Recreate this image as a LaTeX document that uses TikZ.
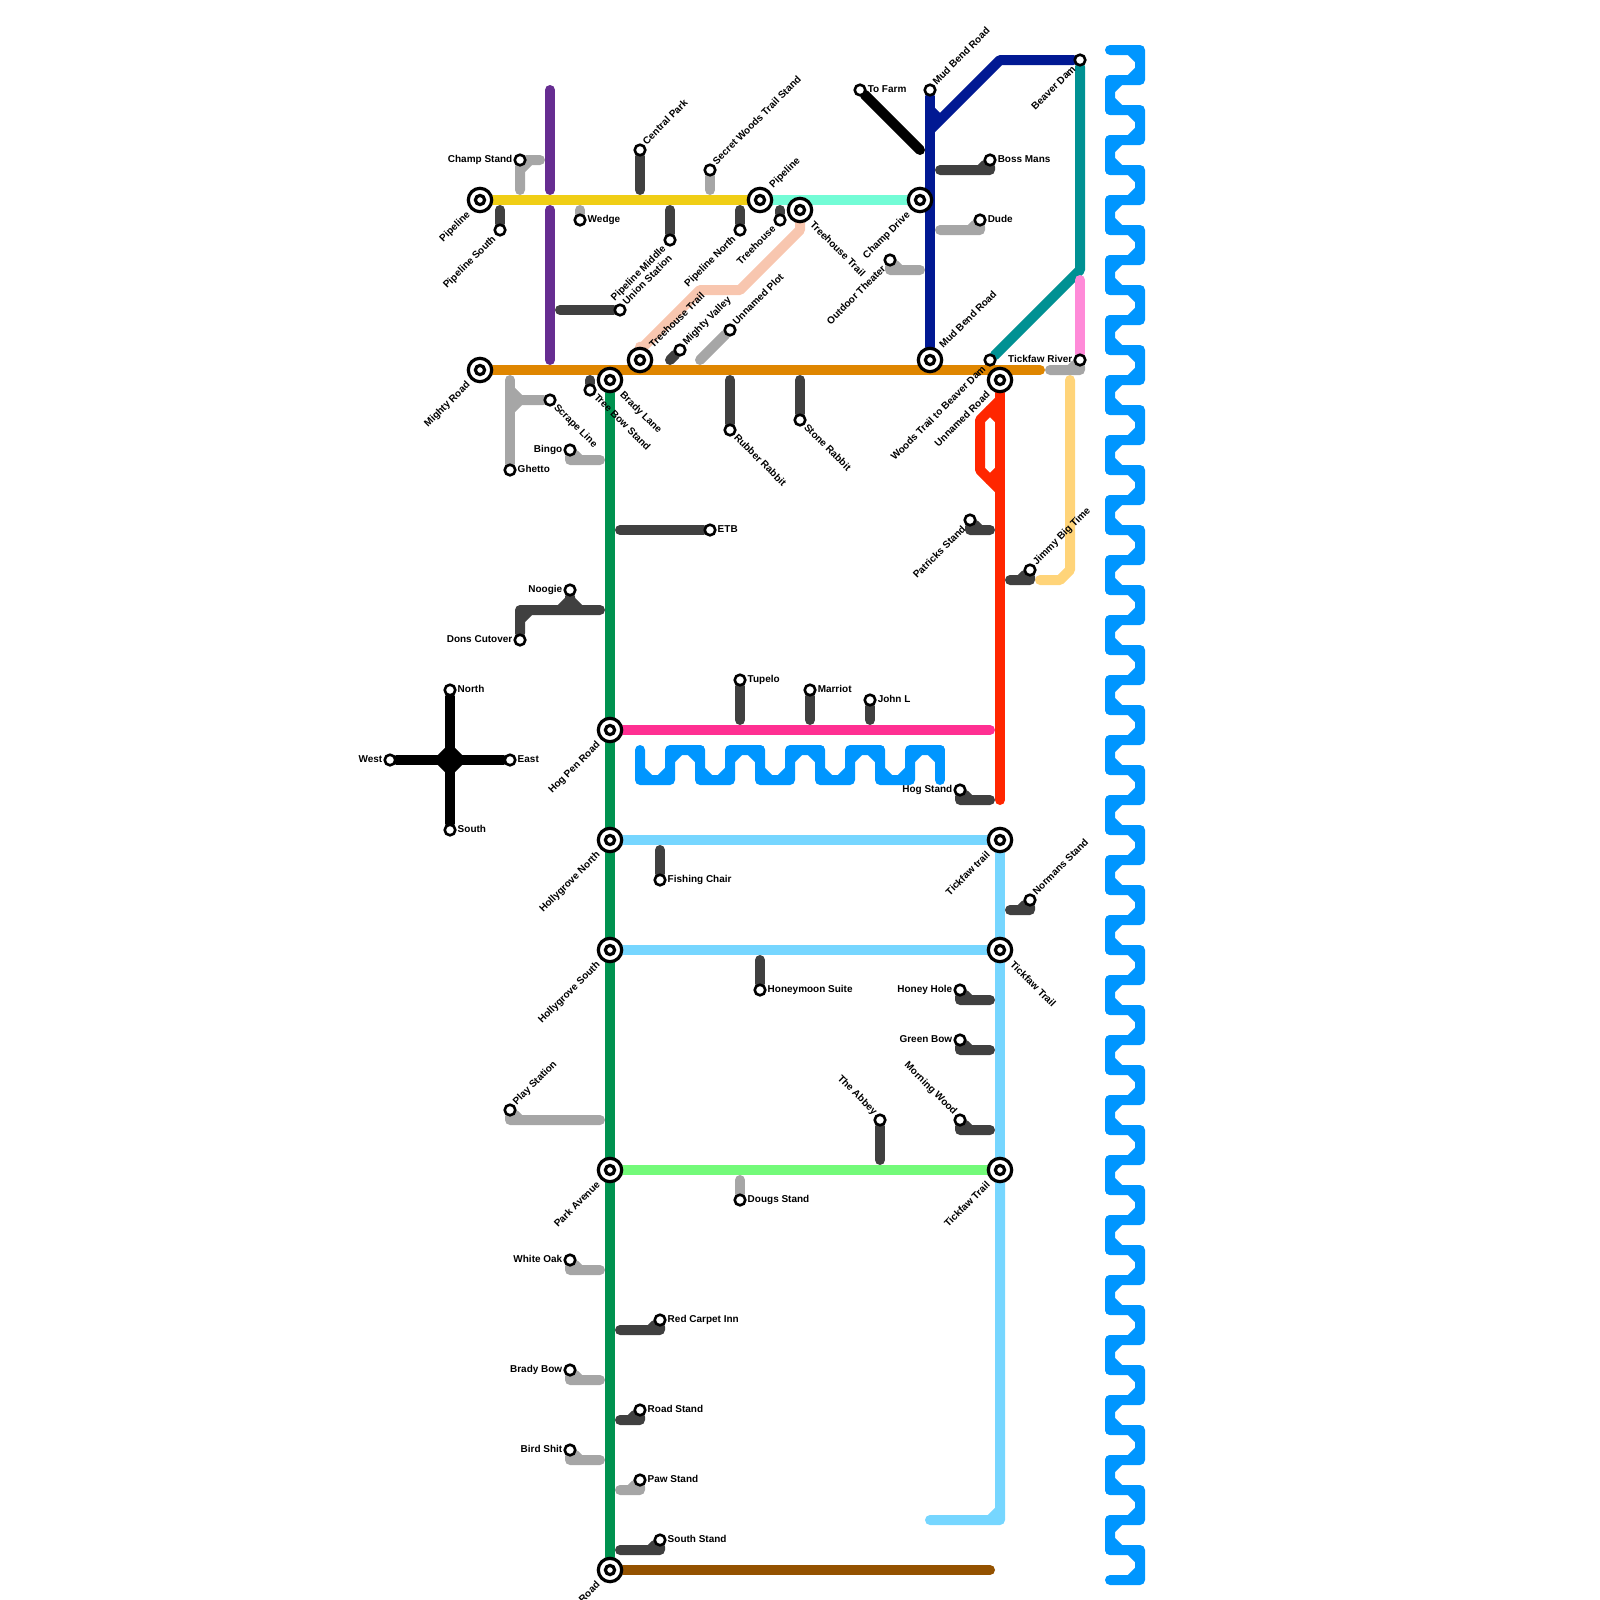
\documentclass[tikz,border=0pt]{standalone}
\usepackage{fontspec}
\setmainfont{Liberation Sans}
\usetikzlibrary{backgrounds}

\definecolor{linepurple}{HTML}{662D91}
\definecolor{lineyellow}{HTML}{F0CE15}
\definecolor{lineorange}{HTML}{DF8600}
\definecolor{linegreen}{HTML}{00924F}
\definecolor{lineaqua}{HTML}{73FCD6}
\definecolor{linepeach}{HTML}{F8C6AF}
\definecolor{linedark}{HTML}{404040}
\definecolor{linegray}{HTML}{A6A6A6}
\definecolor{linenavy}{HTML}{011993}
\definecolor{lineteal}{HTML}{009193}
\definecolor{linebubble}{HTML}{FF8AD8}
\definecolor{linered}{HTML}{FF2600}
\definecolor{linetan}{HTML}{FFD479}
\definecolor{linehot}{HTML}{FF2F92}
\definecolor{linesky}{HTML}{76D6FF}
\definecolor{lineflora}{HTML}{73FA79}
\definecolor{linemocha}{HTML}{945200}
\definecolor{riverblue}{HTML}{0096FF}

\tikzset{
  track/.style={line width=0.5cm,line cap=round,line join=round},
  stop/.style={circle,draw=black,fill=white,line width=0.13cm,minimum size=0.53cm,inner sep=0pt},
  hub/.style={circle,draw=black,fill=white,line width=0.16cm,minimum size=1.17cm,inner sep=0pt,
    path picture={\draw[black,line width=0.16cm] (path picture bounding box.center) circle (0.23cm);}},
  lbl/.style={font=\bfseries\fontsize{14.2}{17}\selectfont,inner sep=0pt,text height=0.28cm,text depth=0pt},
  lbe/.style={label={[lbl,anchor=west,xshift=-0.05cm]0:#1}},
  lbw/.style={label={[lbl,anchor=east,xshift=0.05cm]180:#1}},
  lbne/.style={label={[lbl,rotate=45,anchor=west]45:#1}},
  lbsw/.style={label={[lbl,rotate=45,anchor=east,xshift=-0.07cm]225:#1}},
  lbse/.style={label={[lbl,rotate=-45,anchor=west,yshift=0.05cm]-45:#1}},
  lbnw/.style={label={[lbl,rotate=-45,anchor=east]135:#1}},
  hbne/.style={label={[lbl,rotate=45,anchor=west,xshift=0.14cm]45:#1}},
  hbsw/.style={label={[lbl,rotate=45,anchor=east,xshift=-0.14cm]225:#1}},
  hbse/.style={label={[lbl,rotate=-45,anchor=west,xshift=0.14cm]-45:#1}},
}

\begin{document}
\begin{tikzpicture}[x=0.05cm,y=-0.05cm,label distance=0.1cm]
        \useasboundingbox (0,0) rectangle (1600,1600);

        % Hubs
        \node[hub,hbsw=Pipeline] (pipelineW) at (480,200) {};
        \node[hub,hbne=Pipeline] (pipelineE) at (760,200) {};
        \node[hub,hbse=Treehouse Trail] (treehouseE) at (800,210) {};
        \node[hub,hbsw=Champ Drive] (champdrive) at (920,200) {};
        \node[hub,hbsw=Mighty Road] (mightyroad) at (480,370) {};
        \node[hub,hbne=Treehouse Trail] (treehouseW) at (640,360) {};
        \node[hub,hbse=Brady Lane] (bradylane) at (610,380) {};
        \node[hub,hbne=Mud Bend Road] (mudbendS) at (930,360) {};
        \node[hub,hbsw=Unnamed Road] (unnamedroad) at (1000,380) {};
        \node[hub,hbsw=Hog Pen Road] (hogpen) at (610,730) {};
        \node[hub,hbsw=Hollygrove North] (hollyN) at (610,840) {};
        \node[hub,hbsw=Hollygrove South] (hollyS) at (610,950) {};
        \node[hub,hbsw=Park Avenue] (parkave) at (610,1170) {};
        \node[hub,hbsw=Road] (bottomroad) at (610,1570) {};
        \node[hub,hbsw=Tickfaw trail] (tickfawA) at (1000,840) {};
        \node[hub,hbse=Tickfaw Trail] (tickfawB) at (1000,950) {};
        \node[hub,hbsw=Tickfaw Trail] (tickfawC) at (1000,1170) {};

        % Stops, top
        \node[stop,lbw=Champ Stand] (champstand) at (520,160) {};
        \node[stop,lbsw=Pipeline South] (pipesouth) at (500,230) {};
        \node[stop,lbe=Wedge] (wedge) at (580,220) {};
        \node[stop,lbne=Central Park] (centralpark) at (640,150) {};
        \node[stop,lbne=Secret Woods Trail Stand] (secretwoods) at (710,170) {};
        \node[stop,lbsw=Pipeline Middle] (pipemiddle) at (670,240) {};
        \node[stop,lbsw=Pipeline North] (pipenorth) at (740,230) {};
        \node[stop,lbsw=Treehouse] (treehouse) at (780,220) {};
        \node[stop,lbne=Union Station] (union) at (620,310) {};
        \node[stop,lbne=Mighty Valley] (mightyvalley) at (680,350) {};
        \node[stop,lbne=Unnamed Plot] (unnamedplot) at (730,330) {};
        \node[stop,lbse=Tree Bow Stand] (treebow) at (590,390) {};
        \node[stop,lbse=Scrape Line] (scrape) at (550,400) {};
        \node[stop,lbe=Ghetto] (ghetto) at (510,470) {};
        \node[stop,lbw=Bingo] (bingo) at (570,450) {};
        \node[stop,lbw=Noogie] (noogie) at (570,590) {};
        \node[stop,lbw=Dons Cutover] (dons) at (520,640) {};
        \node[stop,lbse=Rubber Rabbit] (rubber) at (730,430) {};
        \node[stop,lbse=Stone Rabbit] (stone) at (800,420) {};
        \node[stop,lbe=ETB] (etb) at (710,530) {};
        \node[stop,lbe=To Farm] (tofarm) at (860,90) {};
        \node[stop,lbne=Mud Bend Road] (mudbendN) at (930,90) {};
        \node[stop,lbe=Boss Mans] (bossmans) at (990,160) {};
        \node[stop,lbe=Dude] (dude) at (980,220) {};
        \node[stop,lbsw=Outdoor Theater] (outdoor) at (890,260) {};
        \node[stop,lbsw=Beaver Dam] (beaver) at (1080,60) {};
        \node[stop,lbw=Tickfaw River] (tickfawriver) at (1080,360) {};
        \node[stop,lbsw=Woods Trail to Beaver Dam] (woodstrail) at (990,360) {};
        \node[stop,lbsw=Patricks Stand] (patricks) at (970,520) {};
        \node[stop,lbne=Jimmy Big Time] (jimmy) at (1030,570) {};

        % Stops, middle
        \node[stop,lbe=Tupelo] (tupelo) at (740,680) {};
        \node[stop,lbe=Marriot] (marriot) at (810,690) {};
        \node[stop,lbe=John L] (johnl) at (870,700) {};
        \node[stop,lbw=Hog Stand] (hogstand) at (960,790) {};
        \node[stop,lbe=North] (north) at (450,690) {};
        \node[stop,lbe=South] (south) at (450,830) {};
        \node[stop,lbw=West] (west) at (390,760) {};
        \node[stop,lbe=East] (east) at (510,760) {};
        \node[stop,lbe=Fishing Chair] (fishing) at (660,880) {};
        \node[stop,lbne=Normans Stand] (normans) at (1030,900) {};
        \node[stop,lbe=Honeymoon Suite] (honeymoon) at (760,990) {};
        \node[stop,lbw=Honey Hole] (honeyhole) at (960,990) {};
        \node[stop,lbw=Green Bow] (greenbow) at (960,1040) {};
        \node[stop,lbnw=Morning Wood] (morningwood) at (960,1120) {};
        \node[stop,lbnw=The Abbey] (abbey) at (880,1120) {};

        % Stops, bottom
        \node[stop,lbne=Play Station] (playstation) at (510,1110) {};
        \node[stop,lbe=Dougs Stand] (dougs) at (740,1200) {};
        \node[stop,lbw=White Oak] (whiteoak) at (570,1260) {};
        \node[stop,lbe=Red Carpet Inn] (redcarpet) at (660,1320) {};
        \node[stop,lbw=Brady Bow] (bradybow) at (570,1370) {};
        \node[stop,lbe=Road Stand] (roadstand) at (640,1410) {};
        \node[stop,lbw=Bird Shit] (birdshit) at (570,1450) {};
        \node[stop,lbe=Paw Stand] (pawstand) at (640,1480) {};
        \node[stop,lbe=South Stand] (southstand) at (660,1540) {};

        % Free ends of the long lines
        \coordinate (purpleA) at (550,90);
        \coordinate (purpleB) at (550,190);
        \coordinate (purpleC) at (550,210);
        \coordinate (purpleD) at (550,360);
        \coordinate (orangeE) at (1040,370);
        \coordinate (redE) at (1000,800);
        \coordinate (hotE) at (990,730);
        \coordinate (skyA) at (990,840);
        \coordinate (skyB) at (930,1520);
        \coordinate (floraE) at (990,1170);
        \coordinate (mochaE) at (990,1570);
        \coordinate (tanA) at (1070,380);
        \coordinate (tanB) at (1040,580);
        \coordinate (bubbleA) at (1080,280);
        \coordinate (compass) at (450,760);

        \begin{scope}[on background layer]
        % River down the right side
        \foreach \k in {0,...,25} {
            \pgfmathsetmacro\yy{50+60*\k}
            \draw[track,riverblue] (1110,\yy) -- (1140,\yy) -- (1140,\yy+30) -- (1110,\yy+30)
                (1130,\yy) -- (1140,\yy+10) (1140,\yy+20) -- (1130,\yy+30);
        }
        \foreach \k in {0,...,24} {
            \pgfmathsetmacro\yy{50+60*\k}
            \draw[track,riverblue] (1110,\yy+30) -- (1110,\yy+60)
                (1120,\yy+30) -- (1110,\yy+40) (1110,\yy+50) -- (1120,\yy+60);
        }
        % River under the hog pen line
        \foreach \k in {0,...,4} {
            \pgfmathsetmacro\xx{640+60*\k}
            \draw[track,riverblue] (\xx,750) -- (\xx,780) -- (\xx+30,780) -- (\xx+30,750) -- (\xx+60,750)
                (\xx,770) -- (\xx+10,780) (\xx+20,780) -- (\xx+30,770)
                (\xx+30,760) -- (\xx+40,750) (\xx+50,750) -- (\xx+60,760);
        }
        \draw[track,riverblue] (940,750) -- (940,780);

        % Long lines
        \draw[track,linepurple] (purpleA) -- (purpleB) (purpleC) -- (purpleD);
        \draw[track,lineyellow] (pipelineW) -- (pipelineE);
        \draw[track,lineaqua] (pipelineE) -- (champdrive);
        \draw[track,lineorange] (mightyroad) -- (orangeE);
        \draw[track,linegreen] (bradylane) -- (bottomroad);
        \draw[track,linepeach] (treehouseW) -- ++(0,-10) -- ++(60,-60) -- ++(40,0) -- ++(60,-60) -- (treehouseE);
        \draw[track,linenavy] (mudbendN) -- (mudbendS);
        \draw[track,linenavy] (930,130) -- ++(70,-70) -- (beaver) (930,110) -- ++(10,10);
        \draw[track,lineteal] (beaver) -- ++(0,210) -- (woodstrail);
        \draw[track,linebubble] (bubbleA) -- (tickfawriver);
        \draw[track,linetan] (tanA) -- ++(0,190) -- ++(-10,10) -- (tanB);
        \draw[track,linered] (unnamedroad) -- (redE);
        \draw[track,linered] (unnamedroad) ++(0,20) -- ++(-20,20) -- ++(0,50) -- ++(20,20);
        \draw[track,linered] (unnamedroad) ++(-10,30) -- ++(10,10) (unnamedroad) ++(0,90) -- ++(-10,10);
        \draw[track,linehot] (hogpen) -- (hotE);
        \draw[track,linesky] (hollyN) -- (skyA);
        \draw[track,linesky] (hollyS) -- (tickfawB);
        \draw[track,linesky] (tickfawA) -- (tickfawC);
        \draw[track,linesky] (tickfawC) -- ++(0,350) -- (skyB) (tickfawC) ++(-10,350) -- ++(10,-10);
        \draw[track,lineflora] (parkave) -- (floraE);
        \draw[track,linemocha] (bottomroad) -- (mochaE);

        % Black cross and spur
        \draw[track,black] (west) -- (east);
        \draw[track,black] (north) -- (south);
        \draw[track,black] (compass) ++(-10,0) -- ++(10,-10) -- ++(10,10) -- ++(-10,10) -- cycle;
        \draw[track,black] (tofarm) -- ++(60,60);

        % Spurs off the top lines
        \draw[track,linegray] (champstand) -- ++(0,30) (champstand) -- ++(20,0) (champstand) ++(0,10) -- ++(10,-10);
        \draw[track,linedark] (pipesouth) -- ++(0,-20);
        \draw[track,linegray] (wedge) -- ++(0,-10);
        \draw[track,linedark] (centralpark) -- ++(0,40);
        \draw[track,linegray] (secretwoods) -- ++(0,20);
        \draw[track,linedark] (pipemiddle) -- ++(0,-30);
        \draw[track,linedark] (pipenorth) -- ++(0,-20);
        \draw[track,linedark] (treehouse) -- ++(0,-10);
        \draw[track,linedark] (union) -- ++(-60,0);
        \draw[track,linedark] (mightyvalley) -- ++(-10,10);
        \draw[track,linegray] (unnamedplot) -- ++(-30,30);
        \draw[track,linedark] (treebow) -- ++(0,-10);
        \draw[track,linegray] (ghetto) -- ++(0,-90);
        \draw[track,linegray] (scrape) -- ++(-40,0) ++(0,-10) -- ++(10,10) -- ++(-10,10);
        \draw[track,linegray] (bingo) -- ++(0,10) -- ++(30,0) (bingo) -- ++(10,10);
        \draw[track,linedark] (dons) -- ++(0,-30) -- ++(80,0) (dons) ++(0,-20) -- ++(10,-10);
        \draw[track,linedark] (noogie) -- ++(0,20) (noogie) ++(-10,20) -- ++(10,-10) -- ++(10,10);
        \draw[track,linedark] (rubber) -- ++(0,-50);
        \draw[track,linedark] (stone) -- ++(0,-40);
        \draw[track,linedark] (etb) -- ++(-90,0);
        \draw[track,linedark] (bossmans) -- ++(0,10) -- ++(-50,0) (bossmans) -- ++(-10,10);
        \draw[track,linegray] (dude) -- ++(0,10) -- ++(-40,0) (dude) -- ++(-10,10);
        \draw[track,linegray] (outdoor) -- ++(0,10) -- ++(30,0) (outdoor) -- ++(10,10);
        \draw[track,linegray] (tickfawriver) -- ++(0,10) -- ++(-30,0) (tickfawriver) -- ++(-10,10);
        \draw[track,linedark] (patricks) -- ++(0,10) -- ++(20,0) (patricks) -- ++(10,10);
        \draw[track,linedark] (jimmy) -- ++(0,10) -- ++(-20,0) (jimmy) -- ++(-10,10);

        % Spurs in the middle
        \draw[track,linedark] (tupelo) -- ++(0,40);
        \draw[track,linedark] (marriot) -- ++(0,30);
        \draw[track,linedark] (johnl) -- ++(0,20);
        \draw[track,linedark] (hogstand) -- ++(0,10) -- ++(30,0) (hogstand) -- ++(10,10);
        \draw[track,linedark] (fishing) -- ++(0,-30);
        \draw[track,linedark] (normans) -- ++(0,10) -- ++(-20,0) (normans) -- ++(-10,10);
        \draw[track,linedark] (honeymoon) -- ++(0,-30);
        \draw[track,linedark] (honeyhole) -- ++(0,10) -- ++(30,0) (honeyhole) -- ++(10,10);
        \draw[track,linedark] (greenbow) -- ++(0,10) -- ++(30,0) (greenbow) -- ++(10,10);
        \draw[track,linedark] (morningwood) -- ++(0,10) -- ++(30,0) (morningwood) -- ++(10,10);
        \draw[track,linedark] (abbey) -- ++(0,40);

        % Spurs at the bottom
        \draw[track,linegray] (playstation) -- ++(0,10) -- ++(90,0) (playstation) -- ++(10,10);
        \draw[track,linegray] (dougs) -- ++(0,-20);
        \draw[track,linegray] (whiteoak) -- ++(0,10) -- ++(30,0) (whiteoak) -- ++(10,10);
        \draw[track,linedark] (redcarpet) -- ++(0,10) -- ++(-40,0) (redcarpet) -- ++(-10,10);
        \draw[track,linegray] (bradybow) -- ++(0,10) -- ++(30,0) (bradybow) -- ++(10,10);
        \draw[track,linedark] (roadstand) -- ++(0,10) -- ++(-20,0) (roadstand) -- ++(-10,10);
        \draw[track,linegray] (birdshit) -- ++(0,10) -- ++(30,0) (birdshit) -- ++(10,10);
        \draw[track,linegray] (pawstand) -- ++(0,10) -- ++(-20,0) (pawstand) -- ++(-10,10);
        \draw[track,linedark] (southstand) -- ++(0,10) -- ++(-40,0) (southstand) -- ++(-10,10);
        \end{scope}
    \end{tikzpicture}
\end{document}
